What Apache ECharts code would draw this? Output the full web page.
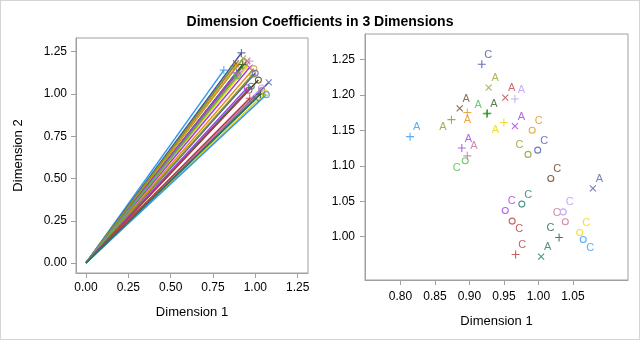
<!DOCTYPE html>
<html>
<head>
<meta charset="utf-8">
<script src="https://cdn.jsdelivr.net/npm/echarts@6/dist/echarts.min.js"></script>
<style>
  html, body { margin: 0; padding: 0; background: #fff; }
  #chart { width: 638px; height: 338px; border: 1px solid #d4d4d4; }
</style>
</head>
<body>
<div id="chart"></div>
<script>
// Coefficients of each source on the first two dimensions
const dim1 = [0.814, 0.918, 0.928, 0.952, 0.966, 0.886, 0.897, 0.925, 0.926, 0.874,
              0.950, 0.889, 0.897, 0.966, 0.991, 0.999, 0.985, 0.894, 1.018, 1.079,
              0.976, 0.952, 1.036, 1.039, 0.962, 1.030, 1.060, 1.065, 0.967, 1.004];
const dim2 = [1.141, 1.243, 1.210, 1.196, 1.194, 1.181, 1.175, 1.173, 1.174, 1.165,
              1.161, 1.125, 1.114, 1.156, 1.150, 1.122, 1.116, 1.107, 1.082, 1.068,
              1.046, 1.037, 1.035, 1.021, 1.022, 0.999, 1.006, 0.996, 0.975, 0.972];
// Group letter shown next to each point
const groups = ['A', 'C', 'A', 'A', 'A', 'A', 'A', 'A', 'A', 'A',
                'A', 'A', 'A', 'A', 'C', 'C', 'C', 'C', 'C', 'A',
                'C', 'C', 'C', 'C', 'C', 'C', 'C', 'C', 'C', 'A'];
// Marker shape of each point
const shapes = ['plus', 'plus', 'cross', 'cross', 'plus', 'cross', 'plus', 'plus', 'plus', 'plus',
                'plus', 'plus', 'plus', 'cross', 'circle', 'circle', 'circle', 'circle', 'circle', 'cross',
                'circle', 'circle', 'circle', 'circle', 'circle', 'plus', 'circle', 'circle', 'plus', 'cross'];
// Colour of each point
const colors = ['#3399ee', '#3d4f9f', '#9aa23a', '#b84a4a', '#b89cf0', '#6e4a28', '#e8901a', '#4cbb4c', '#2f5a26', '#8a9a22',
                '#f0d400', '#a040e0', '#c0709a', '#a040e0', '#e8901a', '#4a5aa8', '#8a9a22', '#4cbb4c', '#5a3a12', '#5560a8',
                '#1e7a6e', '#a040e0', '#b896f0', '#c0709a', '#b83a3a', '#1e5a4e', '#f0d400', '#3399ee', '#b83a3a', '#1e7a6e'];
// Where each group letter sits around its point
const labelSide = ['ur', 'ur', 'ur', 'ur', 'ur', 'ur', 'below', 'ul', 'ur', 'll',
                   'll', 'ur', 'ur', 'ur', 'ur', 'ur', 'ul', 'll', 'ur', 'ur',
                   'ur', 'ur', 'ur', 'ul', 'lr', 'ul', 'ur', 'lr', 'ur', 'ur'];

const leftTicks = [0, 0.25, 0.5, 0.75, 1.0, 1.25];
const rightXTicks = [0.80, 0.85, 0.90, 0.95, 1.00, 1.05];
const rightYTicks = [1.00, 1.05, 1.10, 1.15, 1.20, 1.25];

const FONT = '"Liberation Sans", Arial, sans-serif';
const AXIS_GRAY = '#a0a0a0';

const symbolPaths = {
  plus: 'path://M0,5L10,5M5,0L5,10',
  cross: 'path://M0,0L10,10M10,0L0,10',
  circle: 'circle'
};
const symbolSizes = { plus: 8, cross: 6, circle: 6 };
const offsets = {
  ur: [6.5, -9.5], ul: [-8.5, -9], ll: [-8.5, 7], lr: [7, 8], below: [0, 7.5]
};

function markerItem(i, withLabel) {
  const shape = shapes[i];
  const c = colors[i];
  const item = {
    value: [dim1[i], dim2[i]],
    symbol: symbolPaths[shape],
    symbolSize: symbolSizes[shape],
    itemStyle: {
      color: shape === 'circle' ? 'rgba(0,0,0,0)' : c,
      borderColor: c,
      borderWidth: 1.1
    }
  };
  if (withLabel) {
    item.label = {
      show: true,
      formatter: groups[i],
      position: 'inside',
      offset: offsets[labelSide[i]],
      color: c,
      fontSize: 11,
      fontFamily: FONT
    };
  }
  return item;
}

function valueAxis(gridIndex, min, max, ticks, margin, name, nameGap) {
  return {
    type: 'value',
    gridIndex: gridIndex,
    min: min,
    max: max,
    name: name,
    nameLocation: 'middle',
    nameGap: nameGap,
    nameTextStyle: { fontFamily: FONT, fontSize: 13, color: '#000' },
    axisLine: { show: true, onZero: false, lineStyle: { color: AXIS_GRAY } },
    axisTick: { show: true, length: 5, lineStyle: { color: AXIS_GRAY }, customValues: ticks },
    axisLabel: {
      fontFamily: FONT, fontSize: 12, color: '#000', margin: margin,
      customValues: ticks,
      formatter: v => v.toFixed(2)
    },
    splitLine: { show: false }
  };
}

const vectorData = dim1.map((x, i) => ({
  coords: [[0, 0], [x, dim2[i]]],
  lineStyle: { color: colors[i], width: 1.5, opacity: 1 }
}));

const chart = echarts.init(document.getElementById('chart'), null, { renderer: 'canvas' });
chart.setOption({
  animation: false,
  backgroundColor: '#fff',
  title: {
    text: 'Dimension Coefficients in 3 Dimensions',
    left: 'center',
    top: 9,
    textStyle: { fontFamily: FONT, fontSize: 14, fontWeight: 'bold', color: '#000' }
  },
  grid: [
    { left: 75, top: 37, width: 232, height: 235, show: true, borderColor: AXIS_GRAY, borderWidth: 1 },
    { left: 364, top: 33, width: 263, height: 246, show: true, borderColor: AXIS_GRAY, borderWidth: 1 }
  ],
  xAxis: [
    valueAxis(0, -0.059, 1.311, leftTicks, 9, 'Dimension 1', 33),
    valueAxis(1, 0.7487, 1.1299, rightXTicks, 11, 'Dimension 1', 35)
  ],
  yAxis: [
    valueAxis(0, -0.059, 1.331, leftTicks, 9, 'Dimension 2', 51),
    valueAxis(1, 0.939, 1.2857, rightYTicks, 10, '', 0)
  ],
  series: [
    {
      type: 'lines',
      coordinateSystem: 'cartesian2d',
      xAxisIndex: 0,
      yAxisIndex: 0,
      data: vectorData,
      lineStyle: { opacity: 1 },
      symbol: ['none', 'none']
    },
    {
      type: 'scatter',
      xAxisIndex: 0,
      yAxisIndex: 0,
      data: dim1.map((_, i) => markerItem(i, false))
    },
    {
      type: 'scatter',
      xAxisIndex: 1,
      yAxisIndex: 1,
      data: dim1.map((_, i) => markerItem(i, true))
    }
  ]
});
</script>
</body>
</html>
